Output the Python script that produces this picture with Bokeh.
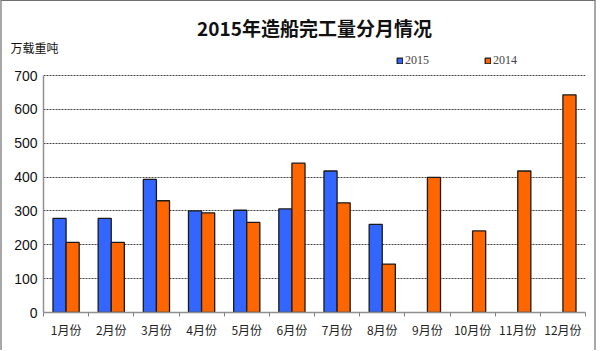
from bokeh.plotting import figure
from bokeh.models import (ColumnDataSource, Range1d, FixedTicker, Title, Legend, LegendItem)
from bokeh.transform import dodge
from bokeh.embed import file_html
from bokeh.resources import INLINE

months = ["1月份", "2月份", "3月份", "4月份", "5月份", "6月份",
          "7月份", "8月份", "9月份", "10月份", "11月份", "12月份"]
y2015 = [278, 278, 393, 300, 302, 306, 418, 260]
y2014 = [207, 207, 330, 294, 266, 441, 324, 143, 399, 241, 418, 643]
y_ticks = [0, 100, 200, 300, 400, 500, 600, 700]

xc = [i + 0.5 for i in range(len(months))]
src15 = ColumnDataSource(dict(x=xc[:len(y2015)], y=y2015))
src14 = ColumnDataSource(dict(x=xc, y=y2014))

W, H = 596, 350                 # canvas size inside the grey page border
TOP, BOTTOM_PX, AXIS_TOP_PX = 53, 311, 74
y_end = 700 * (BOTTOM_PX - TOP) / (BOTTOM_PX - AXIS_TOP_PX)

p = figure(width=W, height=H, output_backend="svg", toolbar_location=None,
           x_range=Range1d(0, len(months)), y_range=Range1d(0, y_end),
           min_border_left=41, min_border_right=13, min_border_top=TOP,
           min_border_bottom=H - BOTTOM_PX, title=None)
p.outline_line_color = None
p.background_fill_color = "white"
p.border_fill_color = "white"

bw = 0.29
r15 = p.vbar(x=dodge("x", -bw / 2), top="y", width=bw, source=src15,
             fill_color="#3366FF", line_color="#1a1a1a", line_width=1.3)
r14 = p.vbar(x=dodge("x", bw / 2), top="y", width=bw, source=src14,
             fill_color="#FF6600", line_color="#1a1a1a", line_width=1.3)

# axes
p.xaxis.ticker = FixedTicker(ticks=xc, minor_ticks=list(range(len(months) + 1)))
p.xaxis.major_label_overrides = {x: m for x, m in zip(xc, months)}
p.xaxis.major_tick_out = 0
p.xaxis.major_tick_in = 0
p.xaxis.minor_tick_out = 4
p.xaxis.minor_tick_in = 0
p.xaxis.minor_tick_line_color = "#808080"
p.xaxis.axis_line_color = "#909090"
p.xaxis.axis_line_width = 1.5
p.xaxis.major_label_text_font = "Noto Sans CJK SC"
p.xaxis.major_label_text_font_size = "12px"
p.xaxis.major_label_text_color = "#222222"
p.xaxis.major_label_standoff = 4

p.yaxis.ticker = FixedTicker(ticks=y_ticks, minor_ticks=[])
p.yaxis.bounds = (0, 700)
p.yaxis.major_tick_out = 0
p.yaxis.major_tick_in = 0
p.yaxis.axis_line_color = "#909090"
p.yaxis.axis_line_width = 1.5
p.yaxis.major_label_text_font = "Liberation Sans"
p.yaxis.major_label_text_font_size = "14px"
p.yaxis.major_label_text_color = "#111111"
p.yaxis.major_label_standoff = 6

p.xgrid.grid_line_color = None
p.ygrid.grid_line_color = "#444444"
p.ygrid.grid_line_dash = "2 1"
p.ygrid.grid_line_width = 1

legend = Legend(items=[LegendItem(label="2015", renderers=[r15]),
                       LegendItem(label="2014", renderers=[r14])],
                orientation="horizontal", location=(353, 244),
                glyph_width=7, glyph_height=7, label_standoff=2, spacing=55,
                label_height=12, label_text_line_height=1.0,
                label_text_font="Liberation Serif", label_text_font_size="12px",
                background_fill_alpha=0, border_line_color=None, padding=0, margin=0)
p.add_layout(legend)

p.add_layout(Title(text="万载重吨", align="left", offset=-33, standoff=-3,
                   text_font="Noto Sans CJK SC", text_font_size="12px",
                   text_font_style="normal", text_color="#111111"), "above")
p.add_layout(Title(text="2015年造船完工量分月情况", align="center", offset=-14, standoff=-4,
                   text_font="Noto Sans CJK SC", text_font_size="19px",
                   text_font_style="bold", text_color="#111111"), "above")

p.styles = {"border-top": "1px solid #707070", "border-left": "2px solid #a8a8a8",
            "border-right": "2px solid #a8a8a8"}

open("out.html", "w").write(file_html(p, INLINE))
